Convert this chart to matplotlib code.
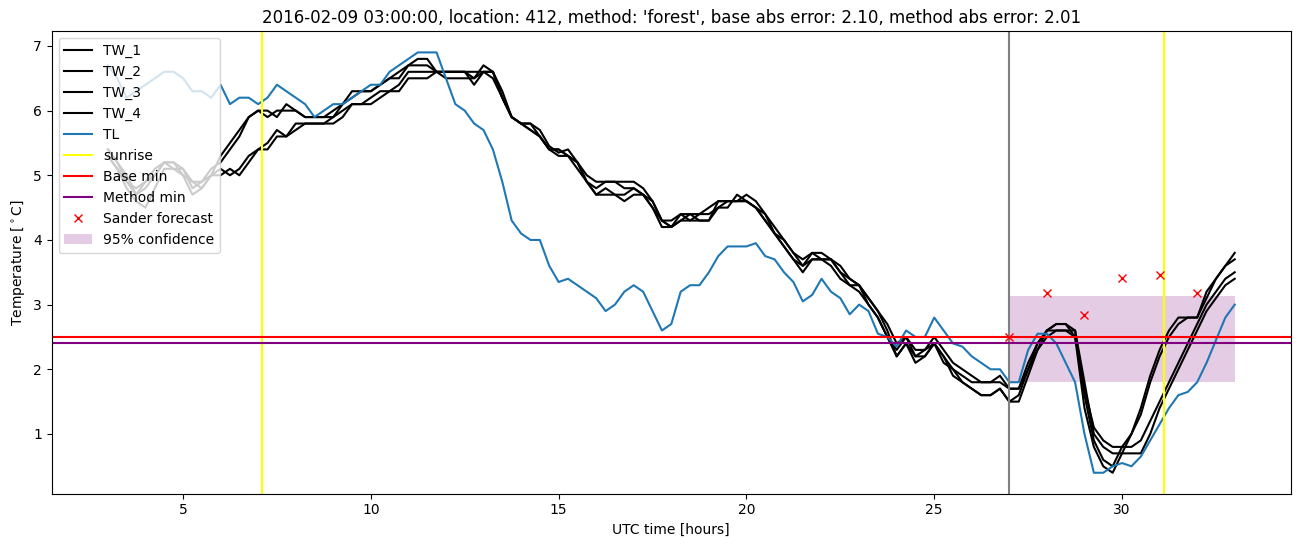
import numpy as np
from matplotlib import pyplot as plt

# time axis in hours (every 15 min)
hours = np.arange(3.0, 33.01, 0.25)

TL = [6.7, 6.5, 6.2, 6.3, 6.4, 6.5, 6.6, 6.6, 6.5, 6.3, 6.3, 6.2,
      6.4, 6.1, 6.2, 6.2, 6.1, 6.2, 6.4, 6.3, 6.2, 6.1, 5.9, 6.0,
      6.1, 6.1, 6.2, 6.3, 6.4, 6.4, 6.6, 6.7, 6.8, 6.9, 6.9, 6.9,
      6.5, 6.1, 6.0, 5.8, 5.7, 5.4, 4.9, 4.3, 4.1, 4.0, 4.0, 3.6,
      3.35, 3.4, 3.3, 3.2, 3.1, 2.9, 3.0, 3.2, 3.3, 3.2, 2.9, 2.6,
      2.7, 3.2, 3.3, 3.3, 3.5, 3.75, 3.9, 3.9, 3.9, 3.95, 3.75, 3.7,
      3.5, 3.35, 3.05, 3.15, 3.4, 3.2, 3.1, 2.85, 3.0, 2.9, 2.55, 2.5,
      2.35, 2.6, 2.5, 2.5, 2.8, 2.6, 2.4, 2.35, 2.2, 2.1, 2.0, 2.0,
      1.8, 1.8, 2.3, 2.55, 2.55, 2.4, 2.1, 1.8, 1.0, 0.4, 0.4, 0.5,
      0.55, 0.5, 0.65, 0.9, 1.15, 1.4, 1.6, 1.65, 1.8, 2.1, 2.45, 2.8,
      3.0]

TW_1 = [5.4, 5.2, 4.9, 4.8, 4.9, 5.1, 5.2, 5.2, 5.1, 4.9, 4.9, 5.1,
        5.2, 5.4, 5.6, 5.9, 6.0, 5.9, 6.0, 6.0, 6.0, 5.9, 5.9, 5.9,
        6.0, 6.1, 6.3, 6.3, 6.3, 6.4, 6.5, 6.6, 6.7, 6.8, 6.8, 6.6,
        6.6, 6.6, 6.6, 6.5, 6.7, 6.6, 6.3, 5.9, 5.8, 5.8, 5.7, 5.45,
        5.35, 5.4, 5.2, 5.0, 4.9, 4.9, 4.9, 4.9, 4.9, 4.8, 4.6, 4.3,
        4.3, 4.4, 4.4, 4.4, 4.5, 4.6, 4.6, 4.6, 4.7, 4.6, 4.4, 4.1,
        4.0, 3.8, 3.7, 3.8, 3.8, 3.7, 3.6, 3.4, 3.3, 3.1, 2.9, 2.7,
        2.4, 2.5, 2.3, 2.3, 2.5, 2.3, 2.1, 2.0, 1.9, 1.8, 1.8, 1.9,
        1.7, 1.7, 2.1, 2.4, 2.6, 2.7, 2.7, 2.6, 1.6, 0.9, 0.6, 0.5,
        0.8, 1.0, 1.4, 1.9, 2.3, 2.6, 2.8, 2.8, 2.8, 3.2, 3.4, 3.6,
        3.8]

TW_2 = [5.3, 5.1, 4.9, 4.7, 4.9, 5.0, 5.2, 5.1, 5.1, 4.8, 4.9, 5.0,
        5.3, 5.5, 5.7, 5.9, 6.0, 6.0, 5.9, 6.1, 6.0, 5.9, 5.9, 5.9,
        5.9, 6.1, 6.2, 6.3, 6.3, 6.4, 6.5, 6.5, 6.7, 6.7, 6.7, 6.6,
        6.6, 6.6, 6.6, 6.6, 6.6, 6.6, 6.2, 5.9, 5.8, 5.7, 5.6, 5.4,
        5.4, 5.3, 5.2, 4.9, 4.8, 4.9, 4.9, 4.8, 4.8, 4.7, 4.5, 4.3,
        4.2, 4.3, 4.3, 4.4, 4.4, 4.5, 4.5, 4.7, 4.6, 4.5, 4.3, 4.1,
        3.9, 3.7, 3.6, 3.8, 3.7, 3.7, 3.5, 3.3, 3.3, 3.0, 2.8, 2.5,
        2.3, 2.5, 2.2, 2.3, 2.4, 2.2, 2.0, 1.9, 1.8, 1.8, 1.8, 1.8,
        1.7, 1.7, 2.0, 2.4, 2.6, 2.7, 2.7, 2.5, 1.4, 0.8, 0.5, 0.4,
        0.7, 1.0, 1.3, 1.8, 2.2, 2.5, 2.7, 2.8, 2.8, 3.1, 3.4, 3.6,
        3.7]

TW_3 = [5.4, 5.2, 5.0, 4.7, 4.8, 5.0, 5.2, 5.2, 5.0, 4.9, 4.8, 5.0,
        5.1, 5.0, 5.1, 5.3, 5.4, 5.5, 5.7, 5.6, 5.8, 5.8, 5.8, 5.8,
        5.9, 6.0, 6.1, 6.1, 6.2, 6.3, 6.3, 6.4, 6.6, 6.6, 6.6, 6.6,
        6.6, 6.6, 6.6, 6.4, 6.6, 6.5, 6.2, 5.9, 5.8, 5.7, 5.6, 5.4,
        5.3, 5.3, 5.1, 4.9, 4.7, 4.8, 4.7, 4.7, 4.8, 4.7, 4.5, 4.2,
        4.2, 4.4, 4.3, 4.3, 4.3, 4.6, 4.6, 4.6, 4.6, 4.5, 4.3, 4.1,
        3.9, 3.7, 3.5, 3.7, 3.7, 3.6, 3.4, 3.3, 3.2, 3.0, 2.8, 2.5,
        2.2, 2.4, 2.2, 2.2, 2.4, 2.1, 2.0, 1.8, 1.7, 1.6, 1.6, 1.7,
        1.5, 1.6, 2.0, 2.3, 2.6, 2.6, 2.6, 2.5, 1.7, 1.1, 0.9, 0.8,
        0.8, 0.8, 0.9, 1.2, 1.5, 1.8, 2.1, 2.4, 2.7, 3.0, 3.2, 3.4,
        3.5]

TW_4 = [5.3, 5.1, 4.8, 4.6, 4.5, 4.8, 5.1, 5.1, 5.0, 4.7, 4.8, 5.0,
        5.0, 5.1, 5.0, 5.2, 5.4, 5.4, 5.6, 5.6, 5.7, 5.8, 5.8, 5.8,
        5.8, 5.9, 6.1, 6.1, 6.1, 6.2, 6.3, 6.3, 6.5, 6.5, 6.5, 6.6,
        6.5, 6.5, 6.5, 6.5, 6.6, 6.6, 6.2, 5.9, 5.8, 5.8, 5.6, 5.4,
        5.4, 5.3, 5.2, 4.9, 4.7, 4.7, 4.7, 4.6, 4.7, 4.7, 4.6, 4.3,
        4.2, 4.3, 4.4, 4.3, 4.3, 4.5, 4.6, 4.6, 4.6, 4.5, 4.4, 4.2,
        4.0, 3.8, 3.6, 3.7, 3.7, 3.7, 3.5, 3.4, 3.3, 3.1, 2.9, 2.6,
        2.2, 2.4, 2.1, 2.2, 2.4, 2.2, 1.9, 1.8, 1.7, 1.6, 1.6, 1.7,
        1.5, 1.5, 1.9, 2.3, 2.5, 2.6, 2.6, 2.6, 1.8, 1.0, 0.8, 0.7,
        0.7, 0.7, 0.7, 1.0, 1.4, 1.7, 2.0, 2.3, 2.6, 2.9, 3.1, 3.3,
        3.4]

sunrise = [7.1, 31.12]
forecast_start = 27.0
base_min = 2.5
method_min = 2.41

# Sander forecast points
sander_hours = [27, 28, 29, 30, 31, 32]
sander_temp = [2.5, 3.18, 2.84, 3.41, 3.46, 3.18]

# 95% confidence band
conf_hours = [27.0, 33.0]
conf_low = [1.8, 1.8]
conf_high = [3.14, 3.14]

fig = plt.figure(figsize=(13.02, 5.47), dpi=100)
ax = fig.add_axes([0.0396, 0.0973, 0.952, 0.8453])

for name, vals in [("TW_1", TW_1), ("TW_2", TW_2), ("TW_3", TW_3), ("TW_4", TW_4)]:
    ax.plot(hours, vals, color="black", label=name)
ax.plot(hours, TL, label="TL")

ax.axvline(sunrise[0], color="yellow", label="sunrise")
ax.axvline(sunrise[1], color="yellow")
ax.axvline(forecast_start, color="gray")
ax.axhline(base_min, color="red", label="Base min")
ax.axhline(method_min, color="purple", label="Method min")
ax.plot(sander_hours, sander_temp, "x", color="red", label="Sander forecast")
ax.fill_between(conf_hours, conf_low, conf_high, color="purple", alpha=0.2,
                linewidth=0, label="95% confidence")

ax.set_title("2016-02-09 03:00:00, location: 412, method: 'forest', "
             "base abs error: 2.10, method abs error: 2.01")
ax.set_xlabel("UTC time [hours]")
ax.set_ylabel("Temperature [$^\\circ$C]")
ax.legend(loc="upper left")

fig.savefig("out.png", dpi=100)
